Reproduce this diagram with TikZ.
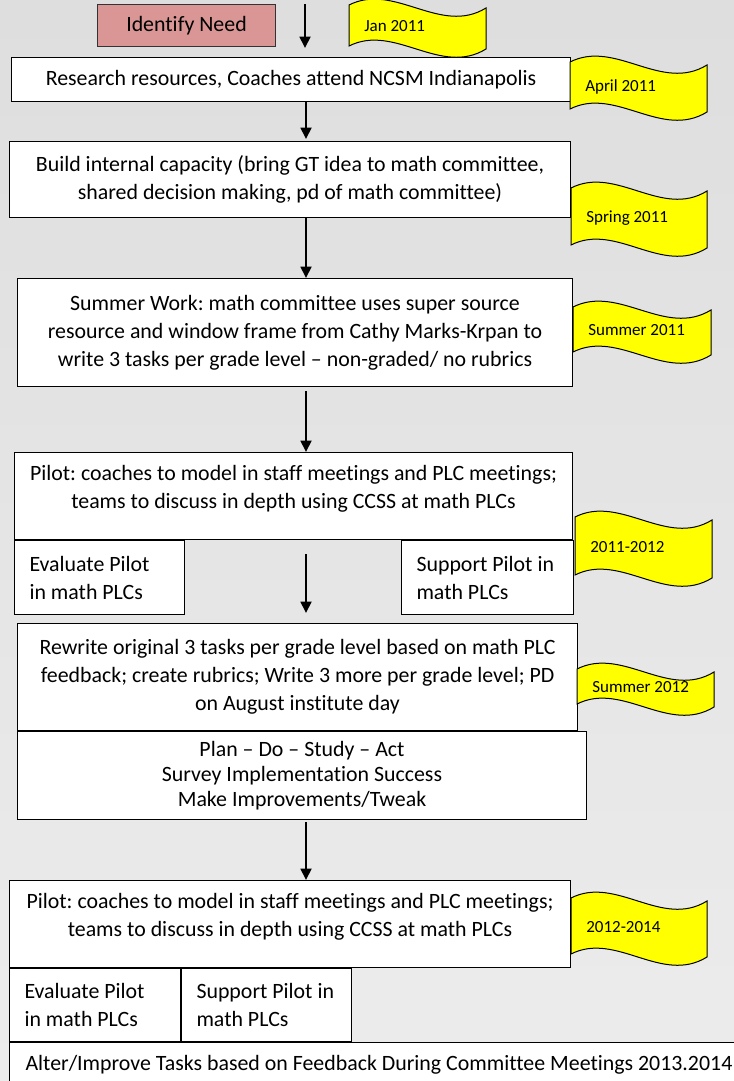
\documentclass[tikz,border=0pt]{standalone}
\usepackage{fontspec}
\setmainfont{Carlito}[Ligatures={TeX,NoCommon}]
\usepackage{tikz}
\usetikzlibrary{arrows.meta,positioning,calc}
\definecolor{needrose}{RGB}{217,150,148}
\definecolor{tagyellow}{RGB}{255,255,0}
\definecolor{bgtop}{RGB}{222,222,222}
\definecolor{bgmid}{RGB}{213,213,213}
\definecolor{bgbot}{RGB}{236,236,236}
\frenchspacing
\newcommand{\dateflag}[6]{%
  \draw[flag] (#2,#3) .. controls ({#2+#4/3},{#3-23}) and ({#2+2*#4/3},{#3+31}) .. ({#2+#4},{#3+3})
    -- ({#2+#4},{#3+#5+3}) .. controls ({#2+2*#4/3},{#3+#5+31}) and ({#2+#4/3},{#3+#5-23}) .. (#2,{#3+#5}) -- cycle;
  \node[datetxt] (#1) at ({#2+15},{#3+#5/2+6}) {#6};}

\begin{document}
\begin{tikzpicture}[
  x=0.75pt, y=-0.75pt,
  box/.style={draw=black, fill=white, line width=0.75pt, align=center, inner sep=0pt,
              anchor=north west, font=\fontsize{16.4}{21}\selectfont},
  side/.style={box, align=flush left},
  flag/.style={draw=black, fill=tagyellow, line width=0.75pt},
  datetxt/.style={anchor=base west, inner sep=0pt, font=\fontsize{12.75}{15}\selectfont},
  arr/.style={-{Triangle[width=8pt,length=8.5pt]}, line width=2pt, black}
]
\clip (0,0) rectangle (734,1081);
\shade[top color=bgtop, middle color=bgmid, bottom color=bgbot] (0,0) rectangle (734,1081);

\node[box, fill=needrose, draw=black!80, minimum width=133.5pt, minimum height=31.5pt] (need) at (97,4) {Identify Need};
\node[box, minimum width=419.25pt, minimum height=33pt] (research) at (11,57) {Research resources, Coaches attend NCSM Indianapolis};
\node[box, minimum width=420.75pt, minimum height=57pt] (build) at (9,141) {Build internal capacity (bring GT idea to math committee,\\ shared decision making, pd of math committee)};
\node[box, minimum width=416.25pt, minimum height=81pt] (summer) at (17,278) {Summer Work: math committee uses super source\\ resource and window frame from Cathy Marks-Krpan to\\ write 3 tasks per grade level -- non-graded/ no rubrics};
\node[box, minimum width=418.5pt, minimum height=65.25pt] (pilot) at (14,452) {Pilot: coaches to model in staff meetings and PLC meetings;\\ teams to discuss in depth using CCSS at math PLCs\\[-7pt]\mbox{}};
\node[side, minimum width=127.5pt, minimum height=55.5pt, text width=105pt] (evalone) at (pilot.south west) {Evaluate Pilot\\ in math PLCs};
\node[side, anchor=north east, minimum width=129pt, minimum height=55.5pt, text width=106.5pt] (supportone) at ($(pilot.south east)+(1,0)$) {Support Pilot in\\ math PLCs};
\node[box, minimum width=420pt, minimum height=80.25pt] (rewrite) at (17,623) {Rewrite original 3 tasks per grade level based on math PLC\\ feedback; create rubrics; Write 3 more per grade level; PD\\ on August institute day};
\node[box, minimum width=426.75pt, minimum height=66pt, font=\fontsize{16.4}{18.75}\selectfont] (plan) at (rewrite.south west) {Plan -- Do -- Study -- Act\\ Survey Implementation Success\\ Make Improvements/Tweak};
\node[box, minimum width=420.75pt, minimum height=65.25pt] (pilottwo) at (9,880) {Pilot: coaches to model in staff meetings and PLC meetings;\\ teams to discuss in depth using CCSS at math PLCs\\[-7pt]\mbox{}};
\node[side, minimum width=128.25pt, minimum height=54.75pt, text width=105.75pt] (evaltwo) at (pilottwo.south west) {Evaluate Pilot\\ in math PLCs};
\node[side, minimum width=127.5pt, minimum height=54.75pt, text width=105pt] (supporttwo) at (evaltwo.north east) {Support Pilot in\\ math PLCs};
\node[side, minimum width=675pt, minimum height=33pt, text width=651pt] (alter) at (evaltwo.south west) {Alter/Improve Tasks based on Feedback During Committee Meetings 2013.2014};

\dateflag{jan}{349}{5}{137}{41}{Jan 2011}
\dateflag{april}{570}{62}{137}{47}{April 2011}
\dateflag{spring}{571}{188}{136}{57}{Spring 2011}
\dateflag{summerone}{573}{307}{138}{45}{Summer 2011}
\dateflag{yearone}{575}{517}{137}{58}{2011-2012}
\dateflag{summertwo}{577}{669}{137}{35}{Summer 2012}
\dateflag{yeartwo}{571}{898}{136}{56}{2012-2014}

\coordinate (axis) at (306,0);
\coordinate (arrowtop) at (305,4);
\draw[arr] (arrowtop) -- ($(research.north -| arrowtop)+(0,-9)$);
\draw[arr] (research.south -| axis) -- ($(build.north -| axis)+(0,-2)$);
\draw[arr] (build.south -| axis) -- (summer.north -| axis);
\draw[arr] ($(summer.south -| axis)+(0,4)$) -- (pilot.north -| axis);
\draw[arr] ($(pilot.south -| axis)+(0,14)$) -- ($(rewrite.north -| axis)+(0,-10)$);
\draw[arr] ($(plan.south -| axis)+(0,2)$) -- (pilottwo.north -| axis);
\end{tikzpicture}
\end{document}
